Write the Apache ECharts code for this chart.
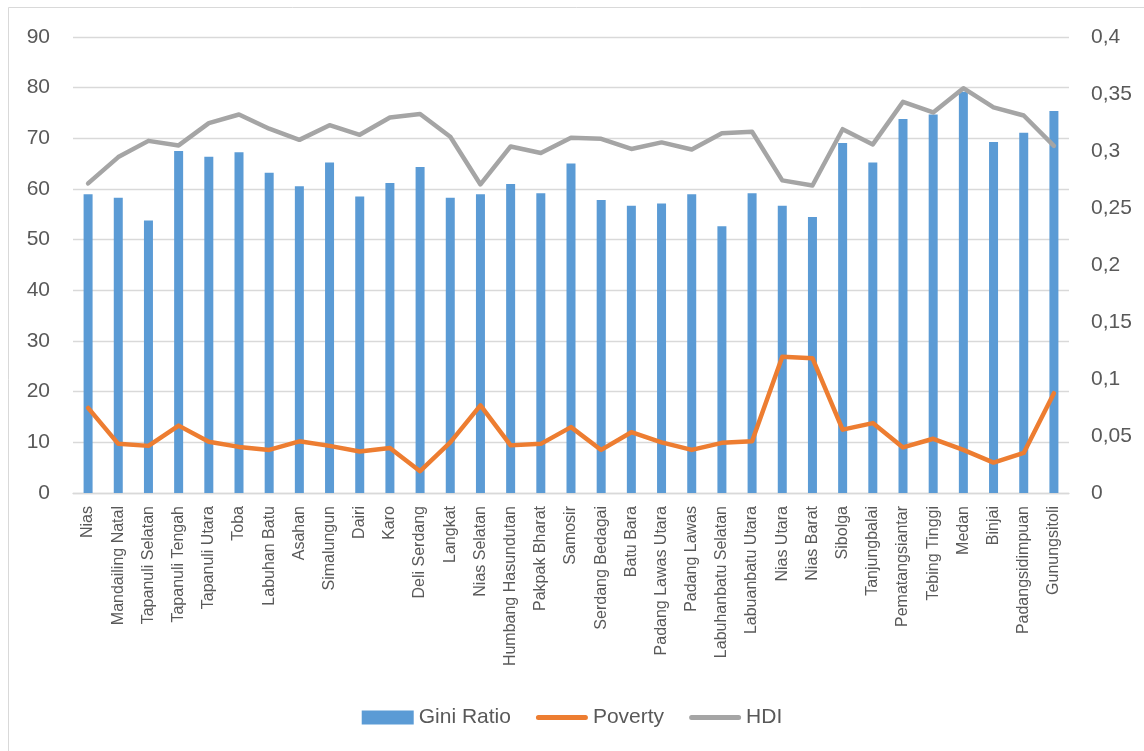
<!DOCTYPE html>
<html>
<head>
<meta charset="utf-8">
<script src="https://cdn.jsdelivr.net/npm/echarts@6/dist/echarts.min.js"></script>
<style>
html,body{margin:0;padding:0;background:#fff;}
#chart{width:1144px;height:751px;}
</style>
</head>
<body>
<div id="chart"></div>
<script>
const categories = ["Nias","Mandailing Natal","Tapanuli Selatan","Tapanuli Tengah","Tapanuli Utara","Toba","Labuhan Batu","Asahan","Simalungun","Dairi","Karo","Deli Serdang","Langkat","Nias Selatan","Humbang Hasundutan","Pakpak Bharat","Samosir","Serdang Bedagai","Batu Bara","Padang Lawas Utara","Padang Lawas","Labuhanbatu Selatan","Labuanbatu Utara","Nias Utara","Nias Barat","Sibolga","Tanjungbalai","Pematangsiantar","Tebing Tinggi","Medan","Binjai","Padangsidimpuan","Gunungsitoli"];
const giniRatio = [0.262,0.259,0.239,0.300,0.295,0.299,0.281,0.269,0.290,0.260,0.272,0.286,0.259,0.262,0.271,0.263,0.289,0.257,0.252,0.254,0.262,0.234,0.263,0.252,0.242,0.307,0.290,0.328,0.332,0.352,0.308,0.316,0.335];
const poverty = [16.8,9.7,9.3,13.3,10.1,9.1,8.5,10.2,9.3,8.2,8.9,4.3,10.0,17.3,9.4,9.7,13.0,8.5,12.0,10.0,8.5,9.9,10.2,26.9,26.6,12.5,13.8,9.0,10.7,8.5,6.0,7.9,19.7];
const hdi = [61.1,66.3,69.5,68.6,73.0,74.7,71.9,69.7,72.6,70.7,74.1,74.8,70.3,60.9,68.4,67.1,70.1,69.9,67.9,69.2,67.8,71.0,71.3,61.7,60.7,71.8,68.8,77.2,75.1,79.9,76.1,74.5,68.5];
const leftTicks = {min:0, max:90, interval:10};
const rightTicks = {min:0, max:0.4, interval:0.05};

const FONT = "Liberation Sans";
const TXT = "#595959";
const LINE_ICON = 'path://M0,0L0.01,0L0.01,0.01ZM2.5,4.5L49.5,4.5A2.5,2.5,0,0,1,49.5,9.5L2.5,9.5A2.5,2.5,0,0,1,2.5,4.5ZM51.99,13.99L52,13.99L52,14Z';
const chart = echarts.init(document.getElementById('chart'), null, {renderer:'canvas'});
chart.setOption({
  animation:false,
  backgroundColor:'#fff',
  textStyle:{fontFamily:FONT},
  graphic:[{type:'rect', shape:{x:8.5,y:7.5,width:1200,height:800}, style:{fill:'none',stroke:'#d9d9d9',lineWidth:1}, silent:true}],
  grid:{left:73,right:75,top:37,height:456},
  legend:{
    bottom:18, left:'center',
    itemWidth:52, itemHeight:14, itemGap:25,
    textStyle:{fontFamily:FONT,fontSize:21,color:TXT},
    data:[{name:'Gini Ratio',icon:'rect'},{name:'Poverty',icon:LINE_ICON},{name:'HDI',icon:LINE_ICON}]
  },
  xAxis:{
    type:'category', data:categories,
    axisLine:{show:true,lineStyle:{color:'#d9d9d9',width:1.3}},
    axisTick:{show:false},
    axisLabel:{rotate:90,interval:0,fontFamily:FONT,fontSize:16,color:TXT,margin:13}
  },
  yAxis:[{
    type:'value', min:leftTicks.min, max:leftTicks.max, interval:leftTicks.interval,
    axisLine:{show:false}, axisTick:{show:false},
    splitLine:{lineStyle:{color:'#d9d9d9',width:1.3}},
    axisLabel:{fontFamily:FONT,fontSize:21,color:TXT,margin:23}
  },{
    type:'value', min:rightTicks.min, max:rightTicks.max, interval:rightTicks.interval,
    position:'right',
    axisLine:{show:false}, axisTick:{show:false}, splitLine:{show:false},
    axisLabel:{fontFamily:FONT,fontSize:21,color:TXT,margin:22,
      formatter:v=>String(+v.toFixed(2)).replace('.',',')}
  }],
  series:[{
    name:'Gini Ratio', type:'bar', yAxisIndex:1, data:giniRatio,
    barWidth:9, itemStyle:{color:'#5B9BD5'}
  },{
    name:'Poverty', type:'line', yAxisIndex:0, data:poverty,
    symbol:'none', lineStyle:{color:'#ED7D31',width:4.5,cap:'round',join:'round'},
    itemStyle:{color:'#ED7D31'}
  },{
    name:'HDI', type:'line', yAxisIndex:0, data:hdi,
    symbol:'none', lineStyle:{color:'#A5A5A5',width:4.5,cap:'round',join:'round'},
    itemStyle:{color:'#A5A5A5'}
  }]
});
</script>
</body>
</html>
